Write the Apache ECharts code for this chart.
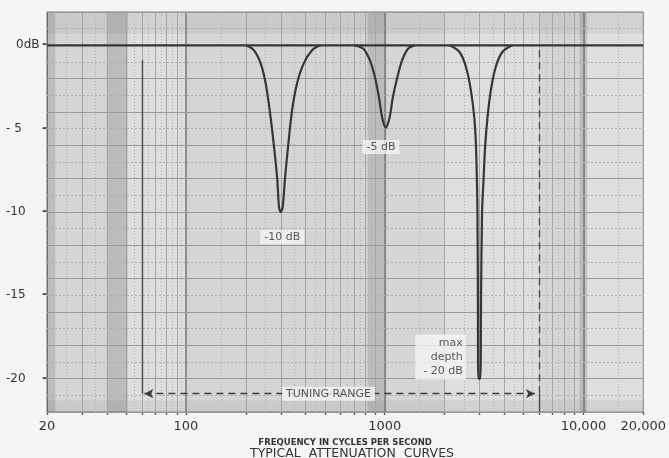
<!DOCTYPE html>
<html><head><meta charset="utf-8">
<script src="https://cdn.jsdelivr.net/npm/echarts@6/dist/echarts.min.js"></script>
<style>html,body{margin:0;padding:0;background:#f5f5f3}#c{width:669px;height:458px}</style>
</head><body><div id="c"></div>
<script>
// ---- tick labels ----
const xLabelValues = [20, 100, 1000, 10000, 20000];
const xLabelTexts = ['20', '100', '1000', '10,000', '20,000'];
const xTickValues = [20,30,40,50,60,70,80,90,100,200,300,400,500,600,700,800,900,1000,2000,3000,4000,5000,6000,7000,8000,9000,10000,20000];
const yLabelValues = [0, -5, -10, -15, -20];
const yLabelTexts = ['0dB', '- 5', '-10', '-15', '-20'];

// ---- graph-paper rulings (data values) ----
const decadeFreqs = [100, 1000, 10000];
const minorFreqs = [30,40,50,60,70,80,90,200,300,400,500,600,700,800,900,2000,3000,4000,5000,6000,7000,8000,9000];
const halfFreqs = [25,35,45,55,65,75,85,95,150,250,350,450,550,650,750,850,950,1500,2500,3500,4500,5500,6500,7500,8500,9500,15000];
const evenDbLevels = [-22,-20,-18,-16,-14,-12,-10,-8,-6,-4,-2,0,2];
const oddDbLevels = [-21,-19,-17,-15,-13,-11,-9,-7,-5,-3,-1,1];
const darkBands = [[40, 51], [820, 1020], [9600, 10400], [20, 22]];
const lightBands = [[51, 100], [10400, 20000], [2000, 6000]];

// ---- curves: [frequency Hz, attenuation dB] ----
const flatLine = [[20, 0], [20000, 0]];
const notch300 = [[200,0],[220,-0.3],[238,-1.1],[252,-2.3],[264,-3.9],[277,-6.0],[288,-8.0],[294,-9.7],[300,-10],[307,-9.7],[315,-8.0],[327,-6.0],[342,-3.9],[362,-2.3],[391,-1.1],[431,-0.3],[474,0]];
const notch1000 = [[710,0],[781,-0.2],[843,-0.9],[893,-1.9],[935,-3.1],[972,-4.35],[1012,-4.95],[1058,-4.35],[1100,-3.1],[1159,-1.9],[1223,-0.9],[1311,-0.2],[1416,0]];
const notch3000 = [[2120,0],[2380,-0.4],[2565,-1.3],[2715,-2.7],[2825,-4.35],[2880,-6],[2910,-8],[2930,-10],[2945,-15],[2960,-20],[3025,-20],[3055,-15],[3090,-10],[3145,-8],[3205,-6],[3290,-4.35],[3420,-2.7],[3620,-1.3],[3910,-0.4],[4390,0]];

// ---- tuning range ----
const tuningRange = [60, 6000];
const tuningLevel = -20.9;

// ---- annotations ----
const annotations = [
  { name: '-10 dB', value: [305, -11.5] },
  { name: '-5 dB', value: [958, -6.1] },
  { name: 'TUNING RANGE', value: [522, -20.9] }
];
const depthNote = { name: 'max\ndepth\n- 20 dB', value: [2560, -18.7] };

const FONT = 'DejaVu Sans';
const ink = '#363636';

function vLines(vals, style) {
  return { type: 'line', data: [], silent: true, z: 1,
    markLine: { silent: true, symbol: 'none', animation: false, label: { show: false },
      lineStyle: style, emphasis: { disabled: true },
      data: vals.map(v => ({ xAxis: v })) } };
}
function hLines(vals, style) {
  return { type: 'line', data: [], silent: true, z: 1,
    markLine: { silent: true, symbol: 'none', animation: false, label: { show: false },
      lineStyle: style, emphasis: { disabled: true },
      data: vals.map(v => ({ yAxis: v })) } };
}
function curve(name, data) {
  return { type: 'line', name: name, data: data, showSymbol: false, smooth: 0.3, z: 10,
    lineStyle: { color: ink, width: 2.2 }, animation: false };
}

const chart = echarts.init(document.getElementById('c'), null, { renderer: 'canvas' });
chart.setOption({
  backgroundColor: '#f5f5f3',
  animation: false,
  textStyle: { fontFamily: FONT },
  title: {
    text: 'TYPICAL  ATTENUATION  CURVES', left: 347, top: 442, textAlign: 'center',
    textStyle: { fontFamily: FONT, fontSize: 12.5, fontWeight: 'normal', color: '#333' }
  },
  grid: { left: 47, right: 22, top: 12, bottom: 46, show: true,
    backgroundColor: '#d5d5d5', borderColor: '#777', borderWidth: 1 },
  xAxis: {
    type: 'log', logBase: 10, min: 20, max: 20000,
    name: 'FREQUENCY IN CYCLES PER SECOND', nameLocation: 'middle', nameGap: 20,
    nameTextStyle: { fontFamily: FONT, fontSize: 8.5, fontWeight: 'bold', color: '#333' },
    axisLine: { show: true, onZero: false, lineStyle: { color: '#777', width: 1 } },
    axisTick: { show: true, customValues: xTickValues, length: 3, lineStyle: { color: '#555', width: 1.3 } },
    axisLabel: { customValues: xLabelValues, margin: 8, fontSize: 13, color: '#333',
      formatter: v => { const i = xLabelValues.findIndex(t => Math.abs(t - v) / t < 1e-6); return i >= 0 ? xLabelTexts[i] : ''; } },
    splitLine: { show: false }, minorSplitLine: { show: false }
  },
  yAxis: {
    type: 'value', min: -22, max: 2, interval: 1,
    axisLine: { show: true, onZero: false, lineStyle: { color: '#777', width: 1 } },
    axisTick: { show: false },
    axisLabel: { customValues: yLabelValues, align: 'right', margin: 0, fontSize: 12, color: '#333',
      formatter: v => {
        const i = yLabelValues.indexOf(v);
        if (i < 0) return '';
        return (i === 0 ? '{z|' : '{a|') + yLabelTexts[i] + '}{t|-}';
      },
      rich: {
        a: { fontSize: 12, color: '#333', width: 36, align: 'left', fontFamily: FONT },
        z: { fontSize: 12, color: '#333', width: 26, padding: [0, 0, 0, 10], align: 'left', fontFamily: FONT },
        t: { fontSize: 12, color: '#444', fontWeight: 'bold', fontFamily: FONT }
      } },
    splitLine: { show: false }
  },
  series: [
    // shaded bands of the paper
    { type: 'line', data: [], silent: true, z: 0,
      markArea: { silent: true, itemStyle: { color: 'rgba(60,60,60,0.16)' },
        data: darkBands.map(b => [{ xAxis: b[0] }, { xAxis: b[1] }]) } },
    { type: 'line', data: [], silent: true, z: 0,
      markArea: { silent: true, itemStyle: { color: 'rgba(255,255,255,0.22)' },
        data: lightBands.map(b => [{ xAxis: b[0] }, { xAxis: b[1] }]) } },
    { type: 'line', data: [], silent: true, z: 0,
      markArea: { silent: true, itemStyle: { color: 'rgba(60,60,60,0.07)' },
        data: [[{ yAxis: 0.7 }, { yAxis: 2 }], [{ yAxis: -22 }, { yAxis: -21.3 }]] } },
    // rulings
    vLines(halfFreqs, { color: '#b2b2b2', width: 1, type: [1, 2] }),
    vLines(minorFreqs, { color: '#a6a6a6', width: 1, type: 'solid' }),
    vLines(decadeFreqs, { color: '#7c7c7c', width: 1.6, type: 'solid' }),
    hLines(oddDbLevels, { color: '#b0b0b0', width: 1, type: [2, 2] }),
    hLines(evenDbLevels, { color: '#9a9a9a', width: 1, type: 'solid' }),
    // tuning range
    { type: 'line', data: [], silent: true, z: 6,
      markLine: { silent: true, symbol: 'none', animation: false, label: { show: false },
        data: [
          [{ coord: [tuningRange[0], -0.9], lineStyle: { color: '#4a4a4a', width: 1.4, type: 'solid' } },
           { coord: [tuningRange[0], tuningLevel] }],
          [{ coord: [tuningRange[1], -0.3], lineStyle: { color: '#4a4a4a', width: 1.4, type: [7, 5] } },
           { coord: [tuningRange[1], tuningLevel] }],
          [{ coord: [tuningRange[1], tuningLevel], lineStyle: { color: '#4a4a4a', width: 1.4, type: 'solid' } },
           { coord: [tuningRange[1], -22] }]
        ] } },
    { type: 'line', data: [], silent: true, z: 6,
      markLine: { silent: true, symbol: ['arrow', 'arrow'], symbolSize: [7, 9], animation: false,
        label: { show: false },
        lineStyle: { color: '#3c3c3c', width: 1.3, type: [7, 5] },
        data: [[{ coord: [tuningRange[0] * 1.03, tuningLevel] }, { coord: [tuningRange[1] * 0.95, tuningLevel] }]] } },
    // curves
    curve('0 dB', flatLine),
    curve('300 Hz notch', notch300),
    curve('1000 Hz notch', notch1000),
    curve('3000 Hz notch', notch3000),
    // annotations
    { type: 'scatter', data: annotations, symbolSize: 0, silent: true, z: 20,
      label: { show: true, position: 'inside', formatter: '{b}', fontFamily: FONT, fontSize: 11,
        color: '#2f2f2f', backgroundColor: '#f4f4f2', padding: [2, 4, 1, 4] } },
    { type: 'scatter', data: [depthNote], symbolSize: 0, silent: true, z: 20,
      label: { show: true, position: 'inside', align: 'right', formatter: '{b}', fontFamily: FONT,
        fontSize: 11, lineHeight: 14, color: '#2f2f2f', backgroundColor: '#f4f4f2', padding: [2, 3, 1, 8] } }
  ]
});
</script></body></html>
